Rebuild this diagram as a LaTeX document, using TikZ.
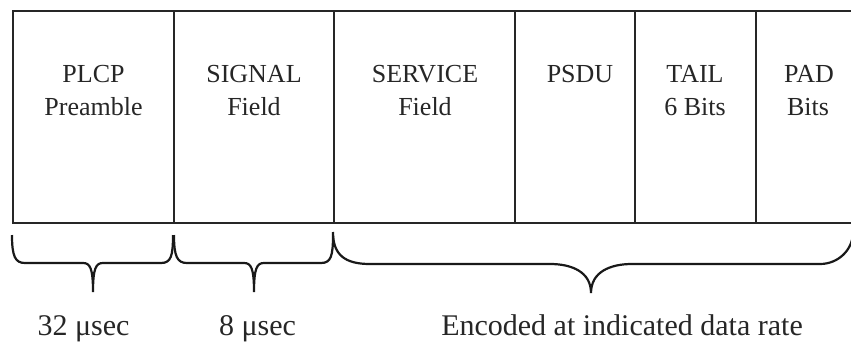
\documentclass[tikz,border=0pt]{standalone}
\usepackage{fontspec}
\setmainfont{Liberation Serif}
\begin{document}
\begin{tikzpicture}[x=0.5pt,y=-0.5pt,
  frame/.style={draw=black!85,line width=1pt},
  bracepath/.style={draw=black!90,line width=1.1pt},
  fieldtext/.style={anchor=base,inner sep=0pt,text=black!85,font=\fontsize{13}{16}\selectfont},
  bottomtext/.style={anchor=base,inner sep=0pt,text=black!85,font=\fontsize{15}{18}\selectfont}]
\useasboundingbox (0,0) rectangle (851,343);
% frame of the fields (open at the right)
\draw[frame] (851,11) -- (13,11) -- (13,223) -- (851,223);
\foreach \xx in {174,334,515,635,756}{
  \draw[frame] (\xx,11) -- (\xx,223);
}
% field labels
\node[fieldtext] (plcpA) at (93.5,82) {PLCP};
\node[fieldtext] (plcpB) at (93.5,115) {Preamble};
\node[fieldtext] (sigA) at (254,82) {SIGNAL};
\node[fieldtext] (sigB) at (254,115) {Field};
\node[fieldtext] (servA) at (425,82) {SERVICE};
\node[fieldtext] (servB) at (425,115) {Field};
\node[fieldtext] (psdu) at (580,82) {PSDU};
\node[fieldtext] (tailA) at (695,82) {TAIL};
\node[fieldtext] (tailB) at (695,115) {6 Bits};
\node[fieldtext] (padA) at (809,82) {PAD};
\node[fieldtext] (padB) at (808,115) {Bits};
% braces
\draw[bracepath] (12,235) .. controls (12,256) and (15,263) .. (25,263) -- (83,263)
  .. controls (90,263) and (93,268) .. (93,292)
  .. controls (93,268) and (96,263) .. (103,263) -- (161,263)
  .. controls (171,263) and (173,256) .. (173,235);
\draw[bracepath] (174,235) .. controls (174,256) and (177,263) .. (187,263) -- (244,263)
  .. controls (251,263) and (254,268) .. (254,292)
  .. controls (254,268) and (257,263) .. (264,263) -- (321,263)
  .. controls (331,263) and (333,256) .. (333,235);
\draw[bracepath] (333,232) .. controls (333,255) and (345,264) .. (370,264) -- (550,264)
  .. controls (572,264) and (591,272) .. (591,293)
  .. controls (591,272) and (610,264) .. (632,264) -- (820,264)
  .. controls (838,264) and (853,250) .. (853,232);
% bottom labels
\node[bottomtext] (t32) at (83.5,335) {32 μsec};
\node[bottomtext] (t8) at (257.5,335) {8 μsec};
\node[bottomtext] (enc) at (622,335) {Encoded at indicated data rate};
\end{tikzpicture}
\end{document}
